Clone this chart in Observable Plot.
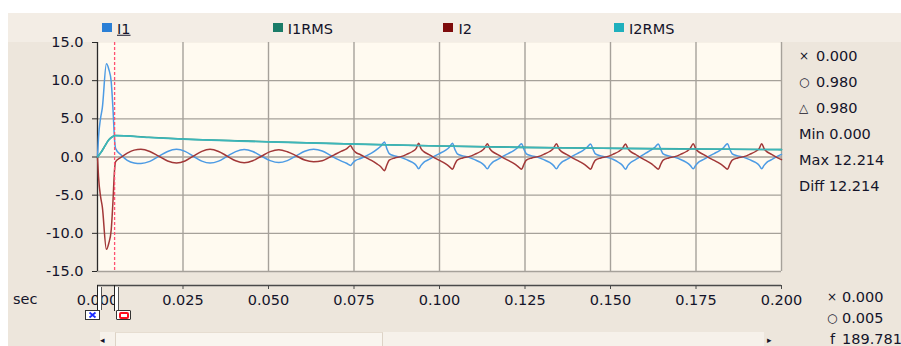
<!DOCTYPE html>
<html>
<head>
<meta charset="utf-8">
<script src="https://cdn.jsdelivr.net/npm/d3@7"></script>
<script src="https://cdn.jsdelivr.net/npm/@observablehq/plot@0.6"></script>
<style>
html,body{margin:0;padding:0;background:#ffffff;}
#wrap{position:relative;width:901px;height:346px;overflow:hidden;font-family:"DejaVu Sans",sans-serif;font-size:14.5px;color:#14142a;}
#panel{position:absolute;left:8px;top:13px;right:0;bottom:0;background:#ede6dc;}
#band{position:absolute;left:8px;top:13px;right:0;height:29px;background:#f3ede5;}
#chart{position:absolute;left:0;top:0;}
.lab{position:absolute;white-space:nowrap;line-height:1;transform:translateY(-50%);}
.sym{font-size:12px;}
</style>
</head>
<body>
<div id="wrap">
  <div id="panel"></div>
  <div id="band"></div>
  <div id="chart"></div>
</div>
<script>
// ---------- data ----------
const seriesNames = ["I1", "I1RMS", "I2", "I2RMS"];
const legendColors = ["#2a7fd6", "#1a7c68", "#7e0c0c", "#1fb0bd"];
const lineColors = ["#4d9be4", "#2c8f7a", "#a23838", "#3cb6ba"];

const time = [
  0, 0.0003, 0.0009, 0.0014, 0.0026, 0.0033, 0.0040, 0.0045, 0.0050, 0.0053,
  0.0067, 0.0087, 0.0107, 0.0127, 0.0153, 0.0179, 0.0205, 0.0231, 0.0256, 0.0280,
  0.0305, 0.0329, 0.0354, 0.0379, 0.0404, 0.0429, 0.0454, 0.0479, 0.0505, 0.0530,
  0.0555, 0.0581, 0.0606, 0.0632, 0.0657, 0.0675, 0.0691, 0.0712, 0.0728, 0.0740,
  0.0747, 0.0755, 0.0769, 0.0784, 0.0801, 0.0817, 0.0829, 0.0839,
  0.0846, 0.0853, 0.0869, 0.0887, 0.0904, 0.0921, 0.0932, 0.0939,
  0.0946, 0.0954, 0.0968, 0.0983, 0.1000, 0.1016, 0.1028, 0.1038,
  0.1045, 0.1052, 0.1068, 0.1086, 0.1103, 0.1120, 0.1131, 0.1140,
  0.1147, 0.1155, 0.1169, 0.1184, 0.1201, 0.1217, 0.1229, 0.1240,
  0.1247, 0.1254, 0.1270, 0.1288, 0.1305, 0.1322, 0.1333, 0.1342,
  0.1349, 0.1357, 0.1371, 0.1386, 0.1403, 0.1419, 0.1431, 0.1442,
  0.1449, 0.1456, 0.1472, 0.1490, 0.1507, 0.1524, 0.1535, 0.1544,
  0.1551, 0.1559, 0.1573, 0.1587, 0.1603, 0.1618, 0.1629, 0.1640,
  0.1647, 0.1654, 0.1670, 0.1688, 0.1705, 0.1722, 0.1733, 0.1742,
  0.1749, 0.1757, 0.1771, 0.1786, 0.1803, 0.1819, 0.1831, 0.1842,
  0.1849, 0.1856, 0.1872, 0.1890, 0.1907, 0.1924, 0.1935, 0.1942,
  0.1949, 0.1957, 0.1971, 0.1986, 0.2000
];
const i1 = [
  0, 2.6, 5.1, 6.4, 12.2, 11.5, 9.9, 6.5, 2.2, 1.1,
  0.35, -0.45, -0.78, -0.85, -0.58, 0.08, 0.73, 1.00, 0.74, 0.10,
  -0.54, -0.80, -0.54, 0.09, 0.71, 0.97, 0.72, 0.12, -0.47, -0.72,
  -0.47, 0.14, 0.75, 1.00, 0.78, 0.38, -0.05, -0.50, -0.82, -1.10,
  -0.75, -0.45, -0.20, 0.10, 0.50, 1.00, 1.45, 1.98,
  1.10, 0.45, 0.15, -0.05, -0.35, -0.72, -1.10, -1.55,
  -1.10, -0.70, -0.35, 0.05, 0.45, 0.85, 1.25, 1.80,
  1.00, 0.42, 0.15, -0.05, -0.35, -0.72, -1.10, -1.55,
  -1.10, -0.70, -0.35, 0.05, 0.45, 0.85, 1.25, 1.75,
  1.00, 0.42, 0.15, -0.05, -0.35, -0.72, -1.10, -1.55,
  -1.10, -0.70, -0.35, 0.05, 0.45, 0.85, 1.25, 1.70,
  1.00, 0.40, 0.15, -0.05, -0.30, -0.72, -1.10, -1.60,
  -1.10, -0.72, -0.35, 0.05, 0.50, 0.90, 1.25, 1.70,
  1.00, 0.40, 0.15, -0.05, -0.32, -0.72, -1.10, -1.55,
  -1.10, -0.70, -0.35, 0.05, 0.45, 0.85, 1.25, 1.75,
  1.00, 0.42, 0.15, -0.05, -0.35, -0.72, -1.10, -1.55,
  -1.10, -0.70, -0.35, 0.05, 0.35
];
const i2 = [
  0, -2.6, -5.2, -6.5, -12.1, -11.3, -9.6, -6.0, -1.6, -0.6,
  -0.10, 0.50, 0.90, 1.00, 0.72, 0.11, -0.52, -0.78, -0.52, 0.11,
  0.74, 1.00, 0.73, 0.12, -0.50, -0.75, -0.50, 0.10, 0.70, 0.95,
  0.69, 0.16, -0.40, -0.63, -0.50, -0.12, 0.25, 0.74, 1.05, 1.46,
  1.00, 0.60, 0.30, -0.05, -0.45, -0.90, -1.30, -1.80,
  -1.05, -0.42, -0.13, 0.05, 0.35, 0.72, 1.12, 1.80,
  1.10, 0.70, 0.35, -0.05, -0.45, -0.85, -1.22, -1.60,
  -0.95, -0.40, -0.13, 0.05, 0.35, 0.72, 1.12, 1.75,
  1.10, 0.70, 0.35, -0.05, -0.45, -0.85, -1.22, -1.60,
  -0.95, -0.40, -0.13, 0.05, 0.35, 0.72, 1.12, 1.75,
  1.10, 0.70, 0.35, -0.05, -0.45, -0.85, -1.22, -1.60,
  -0.95, -0.40, -0.13, 0.05, 0.35, 0.72, 1.12, 1.70,
  1.10, 0.70, 0.35, -0.05, -0.45, -0.85, -1.22, -1.60,
  -0.95, -0.40, -0.13, 0.05, 0.35, 0.72, 1.12, 1.75,
  1.10, 0.70, 0.35, -0.05, -0.45, -0.85, -1.22, -1.60,
  -0.95, -0.40, -0.13, 0.05, 0.35, 0.72, 1.12, 1.75,
  1.10, 0.70, 0.35, -0.05, -0.35
];
const rmsTime = [0, 0.0010, 0.0019, 0.0033, 0.0045, 0.0052, 0.0150, 0.0250, 0.0500, 0.0750, 0.1000, 0.1250, 0.1500, 0.1750, 0.2000];
const i1rms =   [0, 0.60, 1.25, 2.25, 2.70, 2.82, 2.58, 2.36, 2.00, 1.70, 1.45, 1.26, 1.14, 1.05, 0.97];
const i2rms =   [0, 0.58, 1.22, 2.22, 2.68, 2.80, 2.56, 2.34, 1.98, 1.69, 1.44, 1.25, 1.13, 1.04, 0.96];

const xTicks = [0, 0.025, 0.05, 0.075, 0.1, 0.125, 0.15, 0.175, 0.2];
const yTicks = [-15, -10, -5, 0, 5, 10, 15];
const cursorTimes = [0, 0.005];
const readouts = [["×", "0.000"], ["○", "0.980"], ["△", "0.980"], ["", "Min 0.000"], ["", "Max 12.214"], ["", "Diff 12.214"]];
const cursorReadouts = [["×", "0.000"], ["○", "0.005"], ["f", "189.781"]];
const axisUnit = "sec";

// ---------- tables ----------
const wave = time.map((t, i) => ({t, I1: i1[i], I2: i2[i]}));
const rms = rmsTime.map((t, i) => ({t, I1RMS: i1rms[i], I2RMS: i2rms[i]}));

const grid = {stroke: "#a6a19a", strokeOpacity: 1, strokeWidth: 1.4};

const plot = Plot.plot({
  width: 901, height: 346,
  marginLeft: 97, marginRight: 120, marginTop: 42, marginBottom: 75,
  x: {domain: [0, 0.2], label: null},
  y: {domain: [-15, 15], label: null},
  style: {fontFamily: "DejaVu Sans, sans-serif", fontSize: "14.5px", background: "transparent", color: "#14142a", overflow: "visible"},
  marks: [
    Plot.frame({fill: "#fffaf0", stroke: null}),
    Plot.gridX(xTicks.slice(1), grid),
    Plot.gridY(yTicks.slice(0, -1), grid),
    Plot.ruleX([0], {stroke: "#2a2a2a", strokeWidth: 1.3}),
    Plot.axisY(yTicks, {anchor: "left", tickSize: 5, tickPadding: 9, tickFormat: d => d.toFixed(1), stroke: "#2a2a2a", label: null}),
    Plot.ruleY([-15], {dy: 14, stroke: "#4a4a4a", strokeWidth: 1.3}),
    Plot.axisX(xTicks, {anchor: "bottom", dy: 14, tickSize: 4, tickPadding: 5, tickFormat: d => d.toFixed(3), stroke: "#4a4a4a", label: null}),
    Plot.line(wave, {x: "t", y: "I1", stroke: lineColors[0], strokeWidth: 1.5, curve: "monotone-x"}),
    Plot.line(rms, {x: "t", y: "I1RMS", stroke: lineColors[1], strokeWidth: 1.6, curve: "monotone-x"}),
    Plot.line(wave, {x: "t", y: "I2", stroke: lineColors[2], strokeWidth: 1.5, curve: "monotone-x"}),
    Plot.line(rms, {x: "t", y: "I2RMS", stroke: lineColors[3], strokeWidth: 1.6, curve: "monotone-x"}),
    Plot.ruleX([cursorTimes[1]], {stroke: "#ff4f70", strokeWidth: 1.3, strokeDasharray: "3,2"})
  ]
});
document.getElementById("chart").appendChild(plot);

// ---------- overlays ----------
const wrap = document.getElementById("wrap");
function addLabel(text, x, y, cls) {
  const s = document.createElement("span");
  s.className = "lab" + (cls ? " " + cls : "");
  s.textContent = text;
  s.style.left = x + "px";
  s.style.top = y + "px";
  wrap.appendChild(s);
  return s;
}
function addBox(x, y, w, h, css) {
  const d = document.createElement("div");
  d.style.position = "absolute";
  d.style.left = x + "px"; d.style.top = y + "px";
  d.style.width = w + "px"; d.style.height = h + "px";
  Object.assign(d.style, css || {});
  wrap.appendChild(d);
  return d;
}

// legend
seriesNames.forEach((name, i) => {
  const x0 = 102 + i * 170.7;
  addBox(x0, 23, 10, 9, {background: legendColors[i]});
  const l = addLabel(name, x0 + 15, 29);
  if (i === 0) l.style.textDecoration = "underline";
});

// readouts at right
readouts.forEach((r, i) => {
  const y = 56 + i * 26;
  if (r[0]) { addLabel(r[0], 799, y, "sym"); addLabel(r[1], 816, y); }
  else addLabel(r[1], 799, y);
});
cursorReadouts.forEach((r, i) => {
  const y = 297 + i * 21;
  addLabel(r[0], r[0] === "f" ? 830 : 827, y, r[0] === "f" ? "" : "sym");
  addLabel(r[1], 842, y);
});
addLabel(axisUnit, 13, 299);

// cursor handles positioned with the x scale
const sx = plot.scale("x");
cursorTimes.forEach((t, i) => {
  const px = Math.round(sx.apply(t));
  addBox(px - 0.5, 285, 1, 26, {background: "#222"});
  addBox(px + 0.5, 287, 3, 23, {background: "#fff", borderRight: "1px solid #555"});
  if (i === 0) {
    const b = addBox(px - 12, 310, 13, 8, {background: "#fff", border: "1px solid #333"});
    const c = document.createElementNS("http://www.w3.org/2000/svg", "svg");
    c.setAttribute("width", "13"); c.setAttribute("height", "8");
    c.style.position = "absolute"; c.style.left = "0"; c.style.top = "0";
    c.innerHTML = '<path d="M3.5 1.5 L9.5 6.5 M9.5 1.5 L3.5 6.5" stroke="#1a2cff" stroke-width="1.8"/>';
    b.appendChild(c);
  } else {
    const b = addBox(px + 2, 310, 13, 8, {background: "#fff", border: "1px solid #333", borderRadius: "1px"});
    b.innerHTML = '<div style="position:absolute;left:2px;top:1px;width:6px;height:3px;border:2px solid #ff1020;border-radius:2px"></div>';
  }
});

// scrollbar
addBox(100, 332, 664, 14, {background: "#f6f1ea"});
addBox(115, 332, 266, 14, {background: "#f9f5ef", borderLeft: "1px solid #ddd3c6", borderRight: "1px solid #ddd3c6", borderTop: "1px solid #e6ddd1"});
addLabel("◂", 100, 340, "sym").style.fontSize = "9px";
addLabel("▸", 767, 340, "sym").style.fontSize = "9px";
</script>
</body>
</html>
